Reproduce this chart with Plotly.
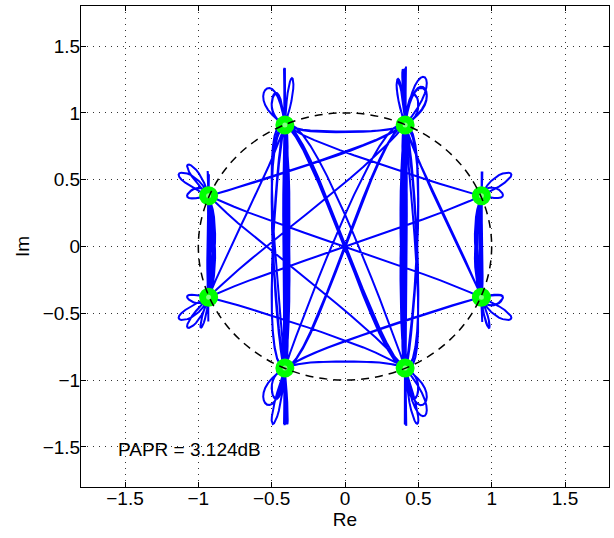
import numpy as np
import plotly.graph_objects as go

# ---- data ----
# constellation points (8 symbols)
const_re = [0.93, 0.41, -0.41, -0.93, -0.93, -0.41, 0.41, 0.93]
const_im = [0.38, 0.91, 0.91, 0.38, -0.38, -0.91, -0.91, -0.38]

# transmitted symbol index sequence (hand typed)
symbols = [
    2, 5, 2, 5, 5, 2, 5, 2, 6, 1, 6, 1, 1, 6, 1, 6,
    1, 6, 6, 1, 6, 1, 5, 2, 5, 2, 2, 5, 2, 5,
    2, 5, 5, 2, 5, 2, 2, 1, 1, 6, 1, 6, 6, 1, 6, 1,
    6, 1, 1, 6, 1, 6, 6, 5, 5, 2, 5, 2, 2, 5, 2,
    5, 2, 5, 5, 2, 5, 1, 6, 1, 6, 6, 1, 6, 1,
    1, 3, 3, 4, 3, 4, 4, 3, 4, 3, 3, 1, 1, 6, 1, 1, 6, 1, 6,
    1, 6, 1, 6, 6, 2, 5, 2, 5, 5, 2, 5, 2,
    5, 2, 2, 5, 2, 5, 5, 6, 6, 1, 6, 1, 1, 6, 1,
    6, 1, 6, 6, 1, 6, 2, 5, 2, 2, 5, 2, 5,
    5, 7, 7, 0, 7, 0, 0, 7, 0, 7, 7, 5, 5, 2, 5, 2, 2, 5, 2,
    5, 2, 5, 5, 2, 6, 1, 6, 1, 1, 6, 1, 6,
    1, 6, 1, 1, 6, 1, 5, 2, 5, 5, 2, 5, 2,
    2, 4, 4, 3, 4, 3, 3, 4, 3, 3, 7, 7, 0, 7, 0, 0, 7, 0,
    0, 2, 2, 5, 2, 5, 5, 2, 5, 2, 2, 1, 1, 6, 1, 6,
    1, 6, 1, 1, 6, 1, 6, 6, 5, 5, 2, 5, 2, 2, 5,
    2, 5, 2, 2, 5, 2, 6, 1, 6, 6, 1, 6, 1,
    5, 2, 5, 2, 2, 5, 2, 5,
    1, 6, 1, 6, 6, 1, 6,
    6, 3, 3, 4, 3, 3, 4, 3, 4, 4, 0, 0, 7, 0, 0, 7, 0, 7,
    7, 1, 1, 6, 1, 6, 1, 1, 6,
    2, 5, 2, 5, 5, 2, 5, 2,
    6, 1, 6, 6, 1, 6, 1,
    5, 5, 2, 5, 2, 2, 5, 2, 5,
    5, 6, 6, 1, 6, 1, 1, 6, 1,
    1, 4, 4, 3, 4, 3, 3, 4,
    4, 6, 6, 1, 6, 1, 1, 6, 1, 6,
    2, 5, 2, 5, 2, 2, 5, 2,
    2, 1, 1, 6, 1, 6, 6, 1,
    1, 7, 7, 0, 7, 7, 0, 7,
    7, 5, 5, 2, 5, 2, 2, 5, 2, 5,
    1, 6, 1, 1, 6, 1, 6,
    2, 5, 2, 5, 5, 2,
]

x_ticks = [-1.5, -1, -0.5, 0, 0.5, 1, 1.5]
x_tick_text = ["\u22121.5", "\u22121", "\u22120.5", "0", "0.5", "1", "1.5"]
y_ticks = [-1.5, -1, -0.5, 0, 0.5, 1, 1.5]
y_tick_text = ["\u22121.5", "\u22121", "\u22120.5", "0", "0.5", "1", "1.5"]
ref_radius = 1.0
papr_text = "PAPR = 3.124dB"

# ---- pulse-shaped trajectory (raised cosine) ----
L = 16
span = 6
rolloff = 0.5
t = np.arange(-span * L, span * L + 1) / L
den = 1 - (2 * rolloff * t) ** 2
sing = np.abs(den) < 1e-8
h = np.sinc(t) * np.cos(np.pi * rolloff * t) / np.where(sing, 1, den)
h[sing] = np.pi / 4 * np.sinc(1 / (2 * rolloff))

s = np.array([const_re[k] + 1j * const_im[k] for k in symbols])
up = np.zeros(len(s) * L, dtype=complex)
up[::L] = s
sig = np.convolve(up, h)
delay = span * L
sig = sig[delay:delay + len(s) * L]
sig = sig[span * L:-(span * L)]

fig = go.Figure()
fig.add_trace(go.Scatter(x=sig.real, y=sig.imag, mode="lines",
                         line=dict(color="#0000ff", width=2),
                         hoverinfo="skip", showlegend=False))
fig.add_trace(go.Scatter(x=const_re, y=const_im, mode="markers",
                         marker=dict(size=12, color="#80ff80",
                                     line=dict(color="#00ff00", width=7)),
                         showlegend=False))
fig.add_shape(type="circle", xref="x", yref="y",
              x0=-ref_radius, y0=-ref_radius, x1=ref_radius, y1=ref_radius,
              line=dict(color="black", width=1.5, dash="8px,6px"), layer="above")
fig.add_annotation(x=-1.56, y=-1.52, xref="x", yref="y", text=papr_text,
                   showarrow=False, xanchor="left", yanchor="middle",
                   font=dict(size=19, color="black"))

axis_common = dict(range=[-1.8, 1.8], showgrid=True, gridcolor="#333333",
                   griddash="1px,5px", gridwidth=1, zeroline=False, showline=True,
                   linecolor="black", linewidth=1, mirror="ticks",
                   ticks="inside", ticklen=5, tickcolor="black", automargin=False,
                   tickfont=dict(size=19, color="black"))
fig.update_xaxes(tickvals=x_ticks, ticktext=x_tick_text, ticklabelstandoff=-6,
                 title=dict(text="Re", font=dict(size=19, color="black"), standoff=2),
                 **axis_common)
fig.update_yaxes(tickvals=y_ticks, ticktext=y_tick_text, ticklabelstandoff=-4,
                 title=dict(text="Im", font=dict(size=19, color="black"), standoff=8),
                 **axis_common)
fig.update_layout(width=614, height=538,
                  margin=dict(l=81, r=5, t=6, b=51),
                  paper_bgcolor="white", plot_bgcolor="white",
                  font=dict(family="Liberation Sans, Arial, sans-serif", size=19, color="black"),
                  showlegend=False)
fig.write_html("out.html", config={"displayModeBar": False},
               post_script="document.body.style.margin='0';document.body.style.overflow='hidden';")
